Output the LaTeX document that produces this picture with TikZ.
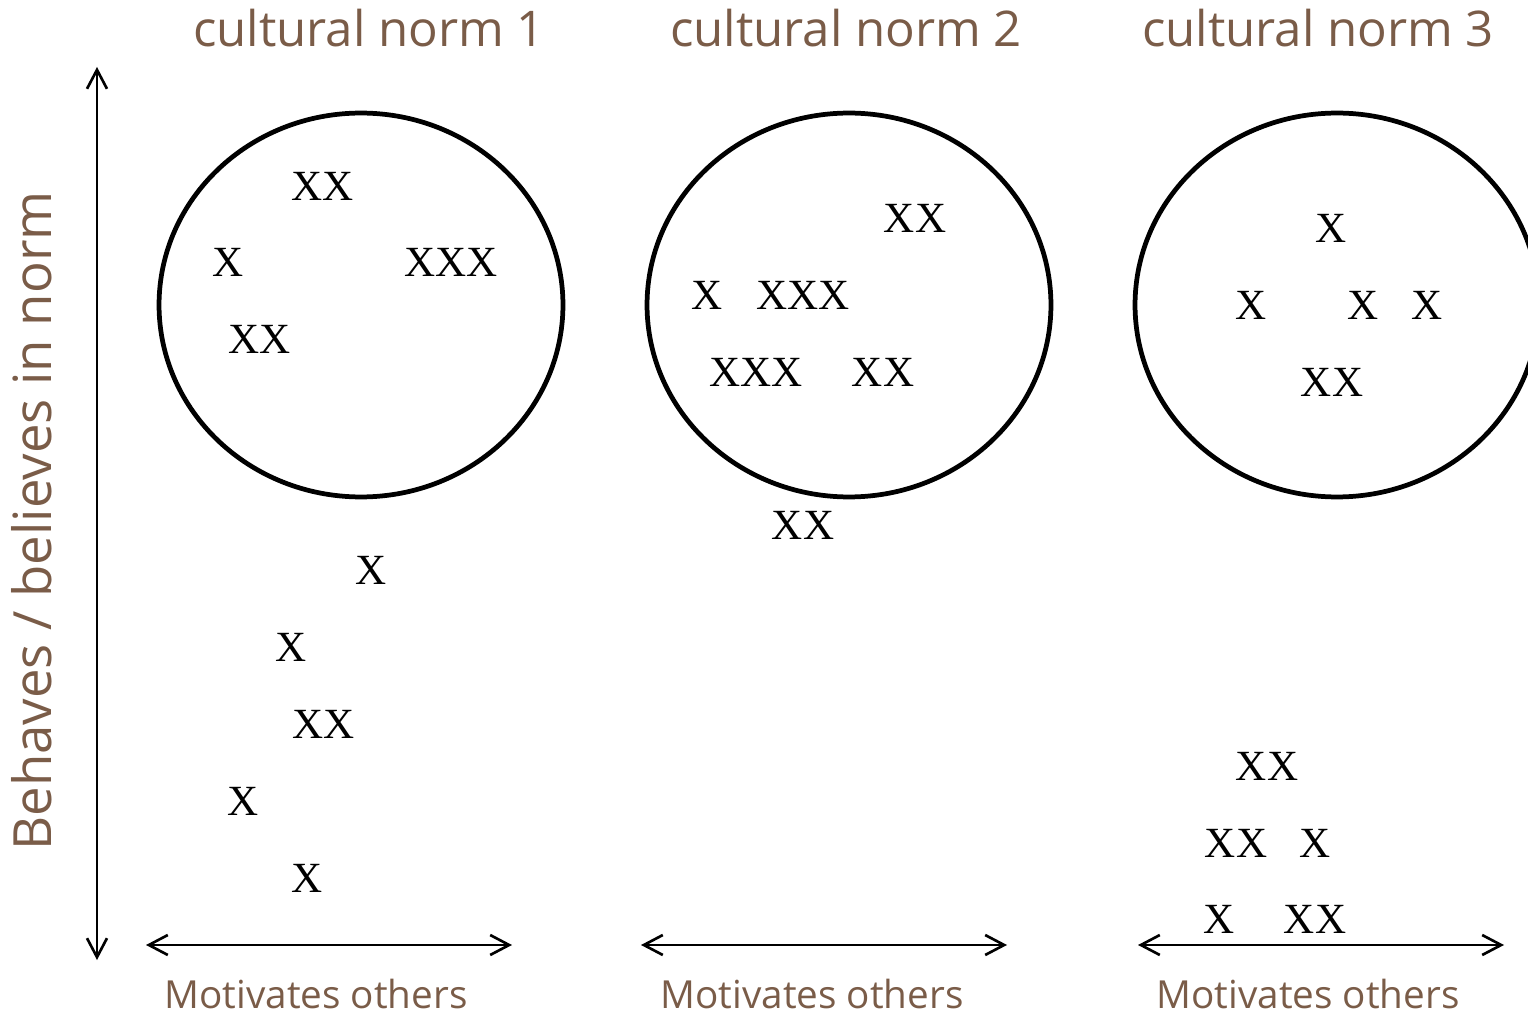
\documentclass[tikz,border=0pt]{standalone}
\usepackage{fontspec}
\setmainfont{Liberation Serif}
\newfontfamily\labelfont{Open Sans}
\usepackage{xcolor}
\usetikzlibrary{shapes.geometric, arrows.meta}

\definecolor{normbrown}{RGB}{122,92,72}

\begin{document}
\begin{tikzpicture}[
    x=0.02cm, y=-0.02cm,
    norm/.style={ellipse, draw, line width=2.7pt, minimum width=8.08cm, minimum height=7.68cm, inner sep=0pt},
    tally/.style={font=\fontsize{24.5}{24.5}\selectfont, inner sep=0pt},
    heading/.style={font=\labelfont\fontsize{28}{32}\selectfont, text=normbrown, inner sep=0pt},
    axislabel/.style={font=\labelfont\fontsize{22}{26}\selectfont, text=normbrown, inner sep=0pt},
    axis/.style={{Straight Barb[length=0.38cm, width=0.4cm]}-{Straight Barb[length=0.38cm, width=0.4cm]}, line width=1.5pt}
]
    \useasboundingbox (0,0) rectangle (1528,1016);

    % Three norms
    \node[norm] (norm1) at (361,305) {};
    \node[norm] (norm2) at (849,305) {};
    \node[norm] (norm3) at (1337,305) {};

    \node[heading] (head1) at (369,28) {cultural norm 1};
    \node[heading] (head2) at (846,28) {cultural norm 2};
    \node[heading] (head3) at (1318,28) {cultural norm 3};

    % Vertical axis
    \coordinate (ytop) at (97,67);
    \coordinate (ybot) at (97,960);
    \draw[axis] (ytop) -- (ybot);
    \node[axislabel, font=\labelfont\fontsize{30}{34}\selectfont, rotate=90] (ylabel) at (32,521) {Behaves / believes in norm};

    % Horizontal axes
    \coordinate (xl1) at (146,945);
    \coordinate (xr1) at (512,945);
    \coordinate (xl2) at (641,945);
    \coordinate (xr2) at (1007,945);
    \coordinate (xl3) at (1138,945);
    \coordinate (xr3) at (1504,945);
    \draw[axis] (xl1) -- (xr1);
    \draw[axis] (xl2) -- (xr2);
    \draw[axis] (xl3) -- (xr3);

    \node[axislabel] (mot1) at (316,994) {Motivates others};
    \node[axislabel] (mot2) at (812,994) {Motivates others};
    \node[axislabel] (mot3) at (1308,994) {Motivates others};

    % Members, norm 1
    \node[tally] (a1) at (323,186) {XX};
    \node[tally] (a2) at (228,262) {X};
    \node[tally] (a3) at (451,262) {XXX};
    \node[tally] (a4) at (260,339) {XX};
    \node[tally] (a5) at (371,570) {X};
    \node[tally] (a6) at (291,647) {X};
    \node[tally] (a7) at (324,724) {XX};
    \node[tally] (a8) at (243,801) {X};
    \node[tally] (a9) at (307,878) {X};

    % Members, norm 2
    \node[tally] (b1) at (915,218) {XX};
    \node[tally] (b2) at (707,295) {X};
    \node[tally] (b3) at (803,295) {XXX};
    \node[tally] (b4) at (756,372) {XXX};
    \node[tally] (b5) at (883,372) {XX};
    \node[tally] (b6) at (803,525) {XX};

    % Members, norm 3
    \node[tally] (c1) at (1331,228) {X};
    \node[tally] (c2) at (1251,305) {X};
    \node[tally] (c3) at (1363,305) {X};
    \node[tally] (c4) at (1427,305) {X};
    \node[tally] (c5) at (1332,382) {XX};
    \node[tally] (c6) at (1267,766) {XX};
    \node[tally] (c7) at (1236,843) {XX};
    \node[tally] (c8) at (1315,843) {X};
    \node[tally] (c9) at (1219,919) {X};
    \node[tally] (c10) at (1315,919) {XX};
\end{tikzpicture}
\end{document}
